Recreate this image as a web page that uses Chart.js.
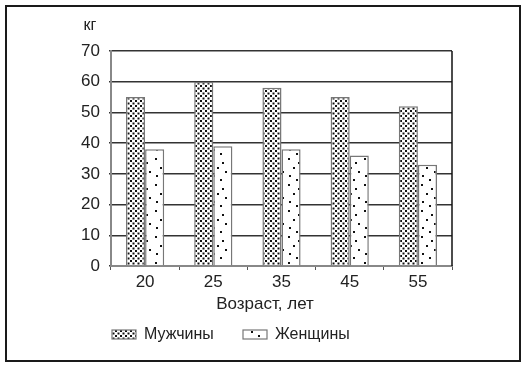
<!DOCTYPE html>
<html>
<head>
<meta charset="utf-8">
<script src="https://cdn.jsdelivr.net/npm/chart.js@4/dist/chart.umd.min.js"></script>
<style>
  html, body { margin: 0; padding: 0; background: #fff; }
  #wrap { position: relative; width: 529px; height: 368px; }
  #frame {
    position: absolute; left: 5px; top: 5px; width: 516px; height: 357px;
    border: 2px solid #1a1a1a; box-sizing: border-box; pointer-events: none;
  }
</style>
</head>
<body>
<div id="wrap">
  <canvas id="chart" width="529" height="368"></canvas>
  <div id="frame"></div>
</div>
<script>
const ages = ["20", "25", "35", "45", "55"];
const men = [55, 60, 58, 55, 52];
const women = [38, 39, 38, 36, 33];
const seriesNames = ["Мужчины", "Женщины"];
const xTitle = "Возраст, лет";
const unit = "кг";

const FONT = "'Liberation Sans', Arial, sans-serif";

function densePattern() {
  const c = document.createElement("canvas");
  c.width = 5; c.height = 5;
  const g = c.getContext("2d");
  g.fillStyle = "#fff";
  g.fillRect(0, 0, 5, 5);
  g.fillStyle = "#111";
  g.fillRect(0, 0, 2, 2);
  g.fillRect(2.5, 2.5, 2, 2);
  return g.createPattern(c, "repeat");
}

function sparsePattern() {
  const c = document.createElement("canvas");
  c.width = 19; c.height = 26;
  const g = c.getContext("2d");
  g.fillStyle = "#fff";
  g.fillRect(0, 0, 19, 26);
  g.fillStyle = "#111";
  [[3, 2], [13, 6], [8, 11], [16, 15], [4, 19], [11, 23]].forEach(p => g.fillRect(p[0], p[1], 2, 2));
  return g.createPattern(c, "repeat");
}

const fills = [densePattern(), sparsePattern()];

const extras = {
  id: "extras",
  afterDraw(chart) {
    const ctx = chart.ctx;
    const a = chart.chartArea;
    ctx.save();
    // right edge of plot
    ctx.strokeStyle = "#111";
    ctx.lineWidth = 1.5;
    ctx.beginPath();
    ctx.moveTo(a.right, a.top);
    ctx.lineTo(a.right, a.bottom);
    ctx.stroke();
    ctx.fillStyle = "#222";
    ctx.textBaseline = "middle";
    ctx.textAlign = "center";
    // unit label
    ctx.font = "16px " + FONT;
    ctx.fillText(unit, 90, 26);
    // axis title
    ctx.font = "17px " + FONT;
    ctx.fillText(xTitle, 265, 304);
    // legend
    ctx.font = "16px " + FONT;
    ctx.textAlign = "left";
    [112, 243].forEach((x, i) => {
      ctx.fillStyle = fills[i];
      ctx.fillRect(x, 330, 24, 9);
      ctx.strokeStyle = "#777";
      ctx.lineWidth = 1.2;
      ctx.strokeRect(x, 330, 24, 9);
      ctx.fillStyle = "#222";
      ctx.fillText(seriesNames[i], x + 32, 335);
    });
    ctx.restore();
  }
};

new Chart(document.getElementById("chart"), {
  type: "bar",
  data: {
    labels: ages,
    datasets: [
      { label: seriesNames[0], data: men, backgroundColor: fills[0], borderColor: "#777", borderWidth: 1.5 },
      { label: seriesNames[1], data: women, backgroundColor: fills[1], borderColor: "#777", borderWidth: 1.5 }
    ]
  },
  options: {
    responsive: false,
    animation: false,
    devicePixelRatio: 1,
    layout: { padding: { top: 51, right: 77, left: 0, bottom: 0 } },
    categoryPercentage: 0.56,
    barPercentage: 1.0,
    plugins: { legend: { display: false }, tooltip: { enabled: false } },
    scales: {
      x: {
        grid: { offset: true, drawOnChartArea: false, drawTicks: true, tickLength: 4, color: "#555" },
        border: { color: "#888", width: 2 },
        ticks: { color: "#222", font: { family: FONT, size: 17 }, padding: 2 },
        afterFit(scale) { scale.height = 102; }
      },
      y: {
        min: 0,
        max: 70,
        ticks: { stepSize: 10, color: "#222", font: { family: FONT, size: 17 }, padding: 9 },
        grid: { color: "#333", lineWidth: 1.5, tickLength: 2 },
        border: { color: "#888", width: 2 },
        afterFit(scale) { scale.width = 111; }
      }
    }
  },
  plugins: [extras]
});
</script>
</body>
</html>
